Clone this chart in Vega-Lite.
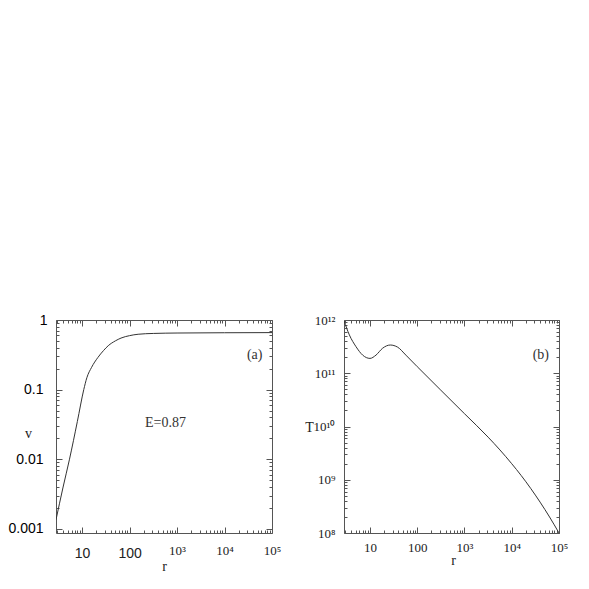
{
  "$schema": "https://vega.github.io/schema/vega-lite/v6.json",
  "padding": {"left": 7, "top": 312, "right": 0, "bottom": 0},
  "background": "white",
  "spacing": 72,
  "bounds": "flush",
  "config": {
    "view": {"stroke": "#555", "strokeWidth": 1},
    "axis": {"grid": false, "domain": false, "tickColor": "#555", "tickWidth": 1, "labelColor": "#222", "titleColor": "#222", "labelFlush": false, "labelOverlap": false, "labelBound": false, "titleFont": "Liberation Serif", "titleFontSize": 14, "titleFontWeight": "normal", "titleAngle": 0, "titleAlign": "center", "titleBaseline": "middle"}
  },
  "datasets": {
    "v": [
      {"r": 2.82, "v": 0.00135},
      {"r": 3.98, "v": 0.00398},
      {"r": 5.43, "v": 0.01},
      {"r": 7.94, "v": 0.0347},
      {"r": 10.84, "v": 0.1},
      {"r": 12.59, "v": 0.148},
      {"r": 15.85, "v": 0.209},
      {"r": 21.38, "v": 0.288},
      {"r": 28.18, "v": 0.363},
      {"r": 35.48, "v": 0.427},
      {"r": 50.12, "v": 0.501},
      {"r": 66.07, "v": 0.55},
      {"r": 100, "v": 0.596},
      {"r": 151.4, "v": 0.624},
      {"r": 316.2, "v": 0.641},
      {"r": 1000, "v": 0.65},
      {"r": 10000, "v": 0.656},
      {"r": 100000, "v": 0.659}
    ],
    "T": [
      {"r": 2.82, "T": 9.7e11},
      {"r": 3.66, "T": 5.25e11},
      {"r": 5.06, "T": 3.16e11},
      {"r": 7.0, "T": 2.19e11},
      {"r": 10, "T": 1.9e11},
      {"r": 13.4, "T": 2.19e11},
      {"r": 18.5, "T": 2.95e11},
      {"r": 26.9, "T": 3.39e11},
      {"r": 38.5, "T": 3.09e11},
      {"r": 57.5, "T": 2.19e11},
      {"r": 100, "T": 1.33e11},
      {"r": 316, "T": 4.8e10},
      {"r": 1000, "T": 1.74e10},
      {"r": 3162, "T": 6.31e9},
      {"r": 5623, "T": 3.63e9},
      {"r": 10000, "T": 2.0e9},
      {"r": 15850, "T": 1.2e9},
      {"r": 25120, "T": 6.9e8},
      {"r": 39810, "T": 3.8e8},
      {"r": 63100, "T": 2.0e8},
      {"r": 100000, "T": 1e8}
    ],
    "annA": [
      {"r": 43250, "v": 0.315, "label": "(a)"},
      {"r": 569, "v": 0.0333, "label": "E=0.87"}
    ],
    "annB": [
      {"r": 41200, "T": 2.2e11, "label": "(b)"}
    ]
  },
  "hconcat": [
    {
      "width": 216,
      "height": 213,
      "layer": [
        {
          "data": {"name": "v"},
          "mark": {"type": "line", "color": "#333", "strokeWidth": 1, "interpolate": "monotone", "clip": true},
          "encoding": {
            "x": {
              "field": "r", "type": "quantitative",
              "scale": {"type": "log", "domain": [2.82, 100000], "nice": false},
              "axis": {
                "orient": "bottom",
                "values": [3,4,5,6,7,8,9,10,20,30,40,50,60,70,80,90,100,200,300,400,500,600,700,800,900,1000,2000,3000,4000,5000,6000,7000,8000,9000,10000,20000,30000,40000,50000,60000,70000,80000,90000,100000],
                "labelExpr": "datum.value==10?'10':datum.value==100?'100':datum.value==1000?'10³':datum.value==10000?'10⁴':datum.value==100000?'10⁵':''",
                "tickSize": {"condition": {"test": "indexof([10,100,1000,10000,100000],datum.value)>=0", "value": -6}, "value": -3},
                "labelPadding": {"condition": {"test": "datum.value<=100", "value": 19}, "value": 17},
                "labelFont": {"condition": {"test": "datum.value<=100", "value": "Liberation Sans"}, "value": "Liberation Serif"},
                "labelFontSize": {"condition": {"test": "datum.value<=100", "value": 14}, "value": 13},
                "labelBaseline": "top",
                "title": "r", "titleX": 108, "titleY": 33
              }
            },
            "y": {
              "field": "v", "type": "quantitative",
              "scale": {"type": "log", "domain": [0.00087, 1], "nice": false},
              "axis": {
                "orient": "left",
                "values": [0.001,0.01,0.1,1],
                "labelExpr": "datum.value>0.5?'1':datum.value>0.05?'0.1':datum.value>0.005?'0.01':'0.001'",
                "tickSize": -6,
                "labelPadding": {"condition": {"test": "datum.value>0.5", "value": 15}, "value": 19},
                "labelAlign": "right",
                "labelFont": "Liberation Sans",
                "labelFontSize": 14,
                "labelColor": "#000",
                "labelBaseline": "middle",
                "title": "v", "titleX": -28, "titleY": 113
              }
            }
          }
        },
        {
          "data": {"name": "annA"},
          "mark": {"type": "text", "font": "Liberation Serif", "fontSize": 14, "color": "#333", "align": "center", "baseline": "middle"},
          "encoding": {
            "x": {
              "field": "r", "type": "quantitative",
              "scale": {"type": "log", "domain": [2.82, 100000], "nice": false},
              "axis": {
                "orient": "top",
                "values": [3,4,5,6,7,8,9,10,20,30,40,50,60,70,80,90,100,200,300,400,500,600,700,800,900,1000,2000,3000,4000,5000,6000,7000,8000,9000,10000,20000,30000,40000,50000,60000,70000,80000,90000,100000],
                "labels": false, "title": null,
                "tickSize": {"condition": {"test": "indexof([10,100,1000,10000,100000],datum.value)>=0", "value": -6}, "value": -3}
              }
            },
            "y": {
              "field": "v", "type": "quantitative",
              "scale": {"type": "log", "domain": [0.00087, 1], "nice": false},
              "axis": {
                "orient": "right",
                "values": [0.001,0.002,0.003,0.004,0.005,0.006,0.007,0.008,0.009,0.01,0.02,0.03,0.04,0.05,0.06,0.07,0.08,0.09,0.1,0.2,0.3,0.4,0.5,0.6,0.7,0.8,0.9,1],
                "labels": false, "title": null,
                "tickSize": {"condition": {"test": "indexof([0.001,0.01,0.1,1],datum.value)>=0", "value": -6}, "value": -3}
              }
            },
            "text": {"field": "label"}
          }
        },
        {
          "data": {"name": "annA"},
          "mark": {"type": "point", "opacity": 0},
          "encoding": {
            "x": {
              "field": "r", "type": "quantitative",
              "scale": {"type": "log", "domain": [2.82, 100000], "nice": false},
              "axis": null
            },
            "y": {
              "field": "v", "type": "quantitative",
              "scale": {"type": "log", "domain": [0.00087, 1], "nice": false},
              "axis": {
                "orient": "left",
                "values": [0.002,0.003,0.004,0.005,0.006,0.007,0.008,0.009,0.02,0.03,0.04,0.05,0.06,0.07,0.08,0.09,0.2,0.3,0.4,0.5,0.6,0.7,0.8,0.9],
                "labels": false, "title": null,
                "tickSize": -3
              }
            }
          }
        }
      ],
      "resolve": {"axis": {"x": "independent", "y": "independent"}}
    },
    {
      "width": 215,
      "height": 213,
      "layer": [
        {
          "data": {"name": "T"},
          "mark": {"type": "line", "color": "#333", "strokeWidth": 1, "interpolate": "monotone", "clip": true},
          "encoding": {
            "x": {
              "field": "r", "type": "quantitative",
              "scale": {"type": "log", "domain": [2.82, 100000], "nice": false},
              "axis": {
                "orient": "bottom",
                "values": [3,4,5,6,7,8,9,10,20,30,40,50,60,70,80,90,100,200,300,400,500,600,700,800,900,1000,2000,3000,4000,5000,6000,7000,8000,9000,10000,20000,30000,40000,50000,60000,70000,80000,90000,100000],
                "labelExpr": "datum.value==10?'10':datum.value==100?'100':datum.value==1000?'10³':datum.value==10000?'10⁴':datum.value==100000?'10⁵':''",
                "tickSize": {"condition": {"test": "indexof([10,100,1000,10000,100000],datum.value)>=0", "value": -6}, "value": -3},
                "labelPadding": 14,
                "labelFont": "Liberation Serif",
                "labelFontSize": 13,
                "labelBaseline": "top",
                "title": "r", "titleX": 109, "titleY": 27
              }
            },
            "y": {
              "field": "T", "type": "quantitative",
              "scale": {"type": "log", "domain": [1e8, 1e12], "nice": false},
              "axis": {
                "orient": "left",
                "values": [1e8,2e8,3e8,4e8,5e8,6e8,7e8,8e8,9e8,1e9,2e9,3e9,4e9,5e9,6e9,7e9,8e9,9e9,1e10,2e10,3e10,4e10,5e10,6e10,7e10,8e10,9e10,1e11,2e11,3e11,4e11,5e11,6e11,7e11,8e11,9e11,1e12],
                "labelExpr": "datum.value==1e12?'10¹²':datum.value==1e11?'10¹¹':datum.value==1e10?'10¹⁰':datum.value==1e9?'10⁹':datum.value==1e8?'10⁸':''",
                "tickSize": {"condition": {"test": "indexof([1e8,1e9,1e10,1e11,1e12],datum.value)>=0", "value": -6}, "value": -3},
                "labelPadding": 15,
                "labelAlign": "right",
                "labelFont": "Liberation Serif",
                "labelFontSize": 13,
                "labelBaseline": "middle",
                "title": "T", "titleX": -35, "titleY": 107
              }
            }
          }
        },
        {
          "data": {"name": "annB"},
          "mark": {"type": "text", "font": "Liberation Serif", "fontSize": 14, "color": "#333", "align": "center", "baseline": "middle"},
          "encoding": {
            "x": {
              "field": "r", "type": "quantitative",
              "scale": {"type": "log", "domain": [2.82, 100000], "nice": false},
              "axis": {
                "orient": "top",
                "values": [3,4,5,6,7,8,9,10,20,30,40,50,60,70,80,90,100,200,300,400,500,600,700,800,900,1000,2000,3000,4000,5000,6000,7000,8000,9000,10000,20000,30000,40000,50000,60000,70000,80000,90000,100000],
                "labels": false, "title": null,
                "tickSize": {"condition": {"test": "indexof([10,100,1000,10000,100000],datum.value)>=0", "value": -6}, "value": -3}
              }
            },
            "y": {
              "field": "T", "type": "quantitative",
              "scale": {"type": "log", "domain": [1e8, 1e12], "nice": false},
              "axis": {
                "orient": "right",
                "values": [1e8,2e8,3e8,4e8,5e8,6e8,7e8,8e8,9e8,1e9,2e9,3e9,4e9,5e9,6e9,7e9,8e9,9e9,1e10,2e10,3e10,4e10,5e10,6e10,7e10,8e10,9e10,1e11,2e11,3e11,4e11,5e11,6e11,7e11,8e11,9e11,1e12],
                "labels": false, "title": null,
                "tickSize": {"condition": {"test": "indexof([1e8,1e9,1e10,1e11,1e12],datum.value)>=0", "value": -6}, "value": -3}
              }
            },
            "text": {"field": "label"}
          }
        }
      ],
      "resolve": {"axis": {"x": "independent", "y": "independent"}}
    }
  ]
}
